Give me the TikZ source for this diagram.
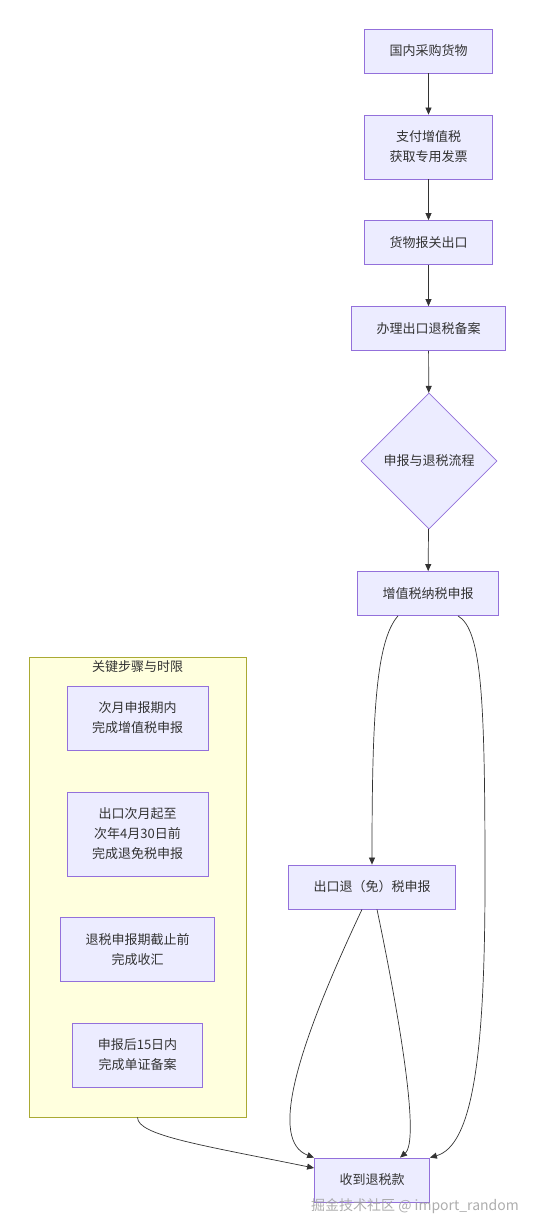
\documentclass[tikz,border=0pt]{standalone}
\usepackage{fontspec}
\setmainfont{Noto Sans CJK SC}
\usepackage{tikz}
\usetikzlibrary{positioning, shapes.geometric, arrows.meta}
\definecolor{boxfill}{HTML}{ECECFF}
\definecolor{boxline}{HTML}{9370DB}
\definecolor{grpfill}{HTML}{FFFFDE}
\definecolor{grpline}{HTML}{AAAA33}
\definecolor{ink}{HTML}{333333}
\tikzset{
  box/.style={draw=boxline, fill=boxfill, line width=0.8pt, inner xsep=25pt, inner ysep=0pt, minimum height=44pt, align=center, text=ink, font=\fontsize{13}{20}\selectfont},
  two/.style={minimum height=64pt},
  three/.style={minimum height=84pt},
  choice/.style={diamond, draw=boxline, fill=boxfill, line width=0.8pt, minimum width=136pt, minimum height=136pt, inner sep=0pt, text=ink, font=\fontsize{13}{20}\selectfont},
  edge/.style={draw=ink, line width=0.7pt, -{Stealth[length=7pt,width=6pt,inset=0pt]}}}

\begin{document}
\begin{tikzpicture}[x=1pt, y=-1pt]
	\useasboundingbox (0,0) rectangle (536,1231);
	% main flow
	\node[box] (buy) at (428.5,51) {国内采购货物};
	\node[box, two] (pay) at (428.5,147) {支付增值税\\获取专用发票};
	\node[box] (customs) at (428.5,242.5) {货物报关出口};
	\node[box] (record) at (428.5,328.5) {办理出口退税备案};
	\node[choice] (flow) at (429,461) {申报与退税流程};
	\node[box] (vat) at (428,593.5) {增值税纳税申报};
	\node[box] (rebate) at (372,887) {出口退（免）税申报};
	\node[box] (refund) at (372,1180) {收到退税款};
	% group of key steps
	\node[draw=grpline, fill=grpfill, line width=0.8pt, minimum width=217pt, minimum height=460pt, inner sep=0pt] (keys) at (137.5,887) {};
	\node[text=ink, font=\fontsize{13}{20}\selectfont] (keystitle) at (137.5,667) {关键步骤与时限};
	\node[box, two] (k1) at (137.5,718) {次月申报期内\\完成增值税申报};
	\node[box, three] (k2) at (137.5,834) {出口次月起至\\次年4月30日前\\完成退免税申报};
	\node[box, two] (k3) at (137.5,949.5) {退税申报期截止前\\完成收汇};
	\node[box, two] (k4) at (137.5,1055) {申报后15日内\\完成单证备案};
	\coordinate (side) at (485,880);
	% connectors
	\draw[edge] (buy) -- (pay); \draw[edge] (pay) -- (customs); \draw[edge] (customs) -- (record);
	\draw[edge] (record) -- (flow); \draw[edge] (flow) -- (vat);
	\draw[edge] ([xshift=-30pt]vat.south) .. controls +(-22,25) and +(0,-150) .. (rebate.north);
	\draw[edge] ([xshift=30pt]vat.south) .. controls +(24,14) and +(0,-180) .. (side) .. controls +(0,180) and +(42,-12) .. (refund.north east);
	\draw[edge] ([xshift=-10pt]rebate.south) .. controls +(-66,140) and +(-45,-17) .. (refund.north west);
	\draw[edge] ([xshift=5pt]rebate.south) .. controls +(23,110) and +(20,-17) .. ([xshift=28pt]refund.north);
	\draw[edge] (keys.south) .. controls +(0,18) and +(-113,-23) .. ([yshift=12pt]refund.west);
	% watermark
	\node[text=gray!75, opacity=0.85, font=\fontsize{14}{16}\selectfont] (mark) at (415,1206) {掘金技术社区 @ import\_random};
\end{tikzpicture}
\end{document}
